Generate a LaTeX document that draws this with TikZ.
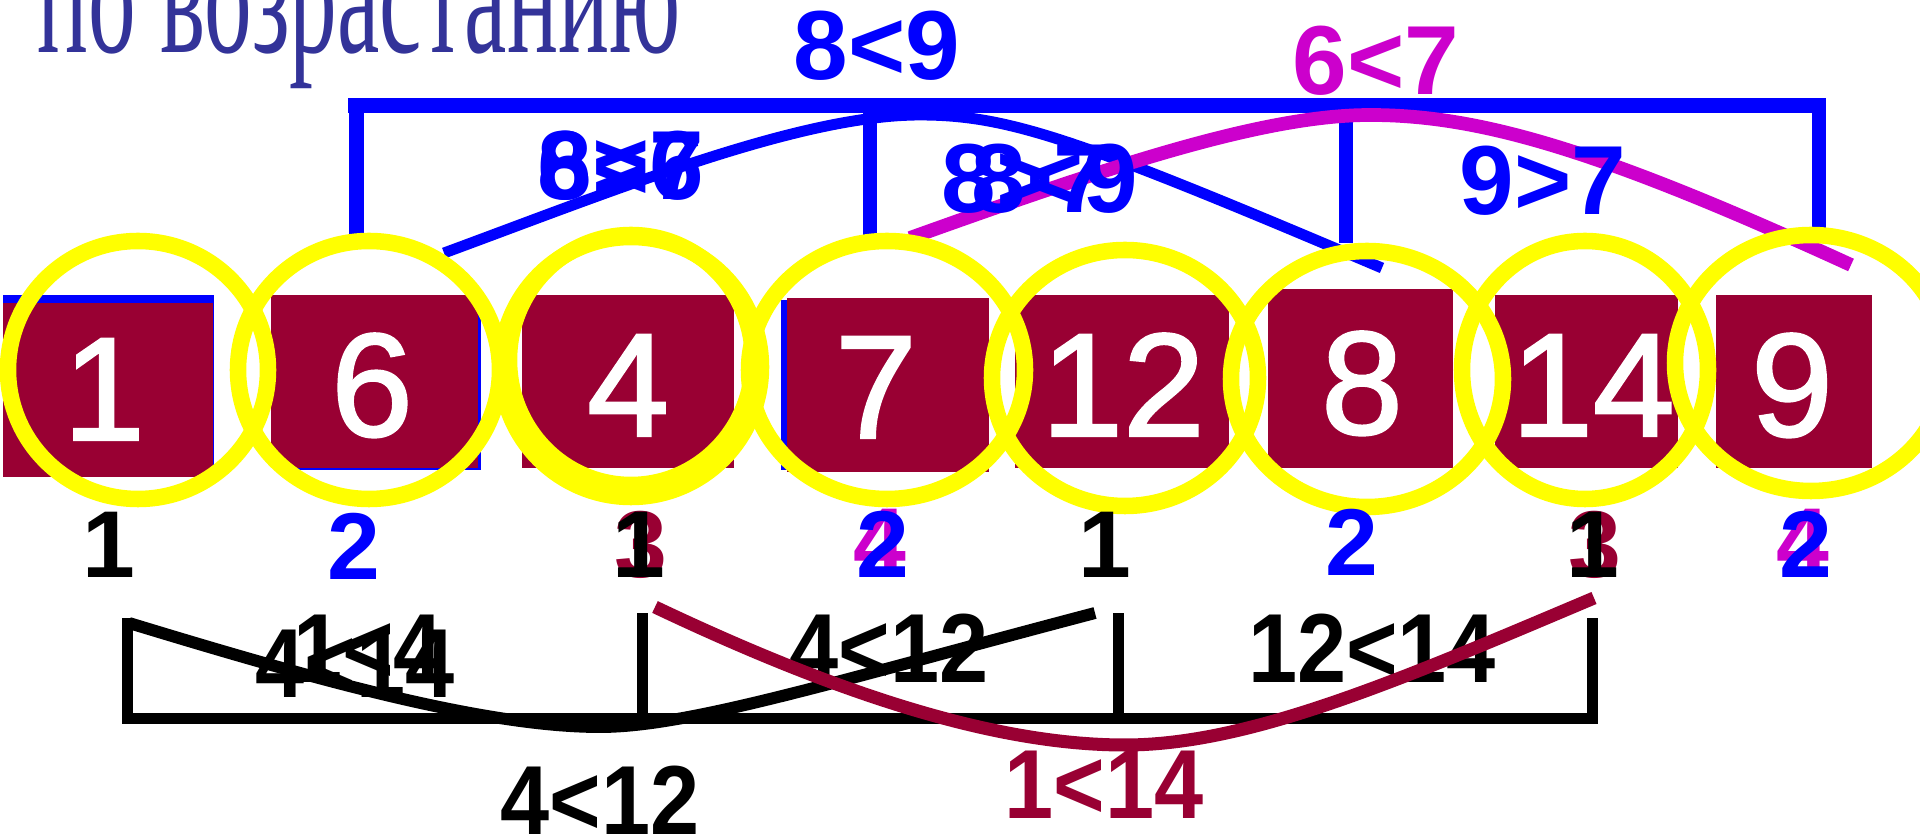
\documentclass[tikz,border=0pt]{standalone}
\usepackage{fontspec}
\setmainfont{Liberation Serif}
\newfontfamily\arialf{Liberation Sans}
\newfontface\digf{Liberation Sans}[FakeBold=1.6]
\definecolor{sqred}{HTML}{990033}
\definecolor{ttl}{HTML}{333399}
\definecolor{mag}{HTML}{CC00CC}
\definecolor{blu}{HTML}{0000FF}
\definecolor{yel}{HTML}{FFFF00}
\newcommand{\nar}[1]{\scalebox{0.9}[1]{#1}}
\tikzset{
  sqfill/.style={fill=sqred},
  bkfill/.style={fill=blu},
  dig/.style={anchor=base, text=white, inner sep=0pt, font=\digf\fontsize{41.8}{44}\selectfont},
  ring/.style={draw=yel, line width=4.7pt},
  lab/.style={anchor=base, inner sep=0pt, font=\arialf\bfseries\fontsize{27}{30}\selectfont},
  cmp/.style={anchor=base, inner sep=0pt, font=\arialf\bfseries\fontsize{27.9}{30}\selectfont},
  bline/.style={draw=blu, line width=3.1pt},
  mline/.style={draw=mag, line width=3.9pt},
  kline/.style={draw=black, line width=3.4pt},
  rline/.style={draw=sqred, line width=3.7pt},
}
\begin{document}
\begin{tikzpicture}[x=0.01cm,y=-0.01cm]
\useasboundingbox (0,0) rectangle (1920,837);
\fill[white] (0,0) rectangle (1920,837);
% title
\node[anchor=base west, text=ttl, inner sep=0pt, font=\fontsize{48.4}{52}\selectfont] (title) at (37,53) {\scalebox{0.56}[1]{по возрастанию}};
% top blue bracket
\fill[bkfill] (348,98) rectangle (1826,113);
\fill[bkfill] (349,98) rectangle (364,235);
\fill[bkfill] (863,98) rectangle (877,235);
\fill[bkfill] (1339,98) rectangle (1353,243);
\fill[bkfill] (1812,98) rectangle (1826,228);
% curves (top)
\coordinate (ba) at (444,253);
\coordinate (bp) at (920,115);
\coordinate (bb) at (1382,268);
\draw[bline] (ba) .. controls (620,188) and (800,115) .. (bp) .. controls (1010,115) and (1080,140) .. (bb);
\coordinate (ma) at (910,238);
\coordinate (mp) at (1370,115);
\coordinate (mb) at (1851,265);
\draw[mline] (ma) .. controls (1100,170) and (1260,115) .. (mp) .. controls (1480,115) and (1600,150) .. (mb);
% top texts
\node[cmp, text=blu] (t89) at (877,80) {8<9};
\node[cmp, text=mag] (t67) at (1376,95) {6<7};
\node[cmp, text=blu] (t86) at (621,200) {8<6};
\node[cmp, text=blu] (t67b) at (621,200) {6>7};
\node[cmp, text=blu] (t87) at (1025,213) {8>7};
\node[cmp, text=blu] (t89b) at (1055,213) {8<9};
\node[cmp, text=blu] (t97) at (1543,215) {9>7};
% squares
\fill[bkfill] (3,295) rectangle (214,475);
\fill[sqfill] (3,303) rectangle (213,477);
\fill[bkfill] (282,297) rectangle (481,470);
\fill[sqfill] (271,295) rectangle (478,468);
\fill[sqfill] (522,295) rectangle (734,468);
\fill[bkfill] (781,300) rectangle (985,470);
\fill[sqfill] (787,298) rectangle (989,472);
\fill[sqfill] (1015,295) rectangle (1229,468);
\fill[sqfill] (1268,289) rectangle (1453,468);
\fill[sqfill] (1495,295) rectangle (1678,468);
\fill[sqfill] (1716,295) rectangle (1872,468);
\node[dig] (d1) at (104,440) {1};
\node[dig] (d2) at (372,436) {6};
\node[dig] (d3) at (628,436) {4};
\node[dig] (d4) at (876,438) {7};
\node[dig] (d5) at (1123,436) {12};
\node[dig] (d6) at (1362,434) {8};
\node[dig] (d7) at (1593,436) {14};
\node[dig] (d8) at (1792,436) {9};
% rings
\draw[ring] (138,370) ellipse [x radius=130, y radius=129];
\draw[ring] (369,370) ellipse [x radius=131, y radius=129];
\draw[ring] (631,367) ellipse [x radius=130, y radius=130];
\draw[ring] (631,360) ellipse [x radius=122, y radius=125];
\draw[ring] (887,370) ellipse [x radius=138, y radius=129];
\draw[ring] (1125,378) ellipse [x radius=133, y radius=128];
\draw[ring] (1367,379) ellipse [x radius=136, y radius=128];
\draw[ring] (1585,370) ellipse [x radius=123, y radius=129];
\draw[ring] (1811,363) ellipse [x radius=136, y radius=128];
% labels
\node[lab, text=black] (l1) at (109,578) {1};
\node[lab, text=blu] (l2) at (354,580) {2};
\node[lab, text=sqred] (l3a) at (641,578) {3};
\node[lab, text=black] (l3b) at (639,578) {1};
\node[lab, text=mag] (l4a) at (880,575) {4};
\node[lab, text=blu] (l4b) at (883,578) {2};
\node[lab, text=black] (l5) at (1105,578) {1};
\node[lab, text=blu] (l6) at (1352,576) {2};
\node[lab, text=sqred] (l7a) at (1595,578) {3};
\node[lab, text=black] (l7b) at (1593,578) {1};
\node[lab, text=mag] (l8a) at (1803,575) {4};
\node[lab, text=blu] (l8b) at (1806,578) {2};
% bottom black bracket
\fill (122,713) rectangle (1598,724);
\fill (122,618) rectangle (133,724);
\fill (637,613) rectangle (648,724);
\fill (1113,613) rectangle (1124,724);
\fill (1587,618) rectangle (1598,724);
% bottom texts
\node[cmp] (b14) at (368,683) {\nar{1<4}};
\node[cmp] (b414) at (355,698) {\nar{4<14}};
\node[cmp] (b412) at (889,683) {\nar{4<12}};
\node[cmp] (b1214) at (1372,683) {\nar{12<14}};
\node[cmp] (b412b) at (600,835) {\nar{4<12}};
\node[cmp, text=sqred] (b114) at (1104,819) {\nar{1<14}};
% bottom curves
\coordinate (ka) at (129,623);
\coordinate (kp) at (600,727);
\coordinate (kb) at (1095,613);
\draw[kline] (ka) .. controls (300,675) and (480,727) .. (kp) .. controls (690,727) and (840,680) .. (kb);
\coordinate (ra) at (655,607);
\coordinate (rp) at (1125,745);
\coordinate (rb) at (1594,598);
\draw[rline] (ra) .. controls (830,690) and (990,745) .. (rp) .. controls (1250,745) and (1400,680) .. (rb);
\end{tikzpicture}
\end{document}
